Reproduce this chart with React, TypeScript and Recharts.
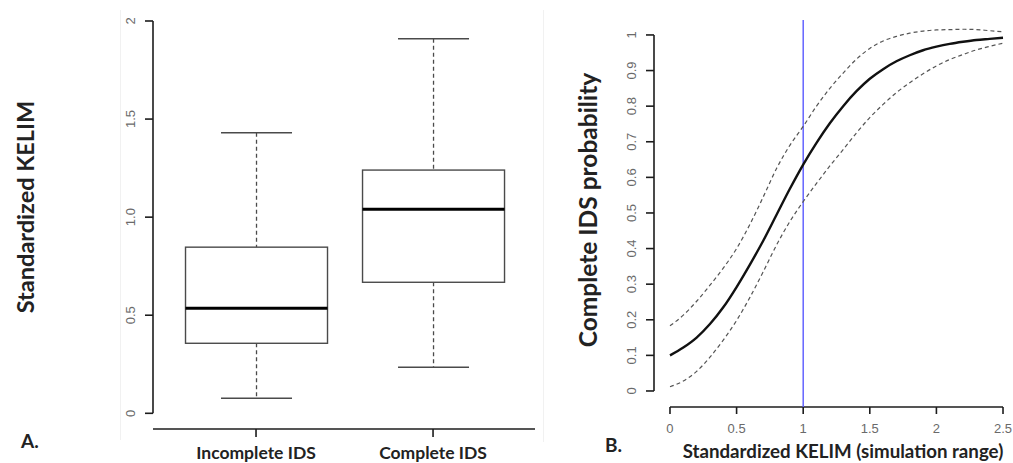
import React from "react"
import { ComposedChart, Bar, LineChart, Line, XAxis, YAxis, ReferenceLine } from "recharts"

// panel A: boxplot summary per group
const groups = ["Incomplete IDS", "Complete IDS"]
const groupPos = [1, 2]
const whiskerLow = [0.077, 0.235]
const q1 = [0.357, 0.668]
const median = [0.536, 1.04]
const q3 = [0.847, 1.24]
const whiskerHigh = [1.43, 1.91]
const boxTicks = [0, 0.5, 1, 1.5, 2]
const boxTickLabels = ["0", "0.5", "1.0", "1.5", "2"]

// panel B: fitted probability with confidence band
const kelim = [0, 0.1, 0.2, 0.3, 0.4, 0.5, 0.6, 0.7, 0.8, 0.9, 1, 1.1, 1.2, 1.3, 1.4, 1.5, 1.6, 1.7, 1.8, 1.9, 2, 2.1, 2.2, 2.3, 2.4, 2.5]
const probFit = [0.1, 0.122, 0.15, 0.188, 0.235, 0.292, 0.355, 0.422, 0.495, 0.568, 0.636, 0.697, 0.752, 0.8, 0.842, 0.877, 0.904, 0.926, 0.943, 0.957, 0.967, 0.975, 0.981, 0.986, 0.989, 0.992]
const probUpper = [0.183, 0.213, 0.252, 0.297, 0.345, 0.4, 0.468, 0.545, 0.625, 0.69, 0.743, 0.8, 0.85, 0.893, 0.932, 0.962, 0.983, 0.996, 1.005, 1.011, 1.014, 1.015, 1.016, 1.015, 1.012, 1.009]
const probLower = [0.012, 0.028, 0.055, 0.095, 0.143, 0.198, 0.263, 0.335, 0.41, 0.476, 0.532, 0.583, 0.632, 0.678, 0.725, 0.768, 0.805, 0.838, 0.866, 0.891, 0.913, 0.931, 0.945, 0.958, 0.968, 0.977]
const probTicks = [0, 0.1, 0.2, 0.3, 0.4, 0.5, 0.6, 0.7, 0.8, 0.9, 1]
const probTickLabels = ["0", "0.1", "0.2", "0.3", "0.4", "0.5", "0.6", "0.7", "0.8", "0.9", "1"]
const kelimTicks = [0, 0.5, 1, 1.5, 2, 2.5]
const kelimTickLabels = ["0", "0.5", "1", "1.5", "2", "2.5"]
const cutoff = 1

const boxRows = groups.map((name, i) => ({
  name,
  pos: groupPos[i],
  low: whiskerLow[i],
  q1: q1[i],
  med: median[i],
  q3: q3[i],
  high: whiskerHigh[i],
  range: [whiskerLow[i], whiskerHigh[i]],
}))

const probRows = kelim.map((x, i) => ({ x, fit: probFit[i], upper: probUpper[i], lower: probLower[i] }))

const AXIS = "#1c1c1c"
const TICK_TEXT = "#6a6a6a"
const BOX = "#4a4a4a"
const TITLE_FONT = "Lato, 'Open Sans', sans-serif"
const TICK_FONT = "'Liberation Sans', Arial, sans-serif"

function BoxShape(props: any) {
  const { x, y, width, height, payload } = props
  const lo = payload.low
  const hi = payload.high
  const k = height / (hi - lo)
  const py = (v: number) => y + (hi - v) * k
  const cx = x + width / 2
  const cap = width / 4
  return (
    <g>
      <line x1={cx} x2={cx} y1={py(hi)} y2={py(payload.q3)} stroke={BOX} strokeWidth={1.3} strokeDasharray="4 3" />
      <line x1={cx} x2={cx} y1={py(payload.q1)} y2={py(lo)} stroke={BOX} strokeWidth={1.3} strokeDasharray="4 3" />
      <line x1={cx - cap} x2={cx + cap} y1={py(hi)} y2={py(hi)} stroke={BOX} strokeWidth={1.5} />
      <line x1={cx - cap} x2={cx + cap} y1={py(lo)} y2={py(lo)} stroke={BOX} strokeWidth={1.5} />
      <rect x={x} y={py(payload.q3)} width={width} height={py(payload.q1) - py(payload.q3)} fill="#fff" stroke={BOX} strokeWidth={1.4} />
      <line x1={x} x2={x + width} y1={py(payload.med)} y2={py(payload.med)} stroke="#000" strokeWidth={3} />
    </g>
  )
}

function RotTick(labels: string[], values: number[]) {
  return (props: any) => {
    const { x, y, payload } = props
    const idx = values.indexOf(payload.value)
    return (
      <text transform={`translate(${x - 8.5},${y}) rotate(-90)`} textAnchor="middle" fontSize={13} fill={TICK_TEXT} fontFamily={TICK_FONT}>
        {idx >= 0 ? labels[idx] : payload.value}
      </text>
    )
  }
}

function GroupTick(props: any) {
  const { x, y, payload } = props
  const idx = groupPos.indexOf(payload.value)
  return (
    <text x={x} y={y + 20} textAnchor="middle" fontSize={17.5} fontWeight={700} fill="#222" fontFamily={TITLE_FONT}>
      {groups[idx]}
    </text>
  )
}

function KelimTick(props: any) {
  const { x, y, payload } = props
  const idx = kelimTicks.indexOf(payload.value)
  return (
    <text x={x} y={y + 17} textAnchor="middle" fontSize={13} fill={TICK_TEXT} fontFamily={TICK_FONT}>
      {kelimTickLabels[idx]}
    </text>
  )
}

export default function App() {
  return (
    <div style={{ position: "absolute", left: 0, top: 0, width: 1013, height: 463, overflow: "hidden", background: "#fff" }}>
      <div style={{ position: "absolute", left: 120, top: 10, width: 1, height: 430, background: "#f1f1f1" }} />
      <div style={{ position: "absolute", left: 543, top: 10, width: 1, height: 432, background: "#f1f1f1" }} />

      <div style={{ position: "absolute", left: 0, top: 0 }}>
        <ComposedChart width={545} height={463} data={boxRows} margin={{ top: 5.3, right: 10, bottom: 4, left: 113 }}>
          <XAxis
            dataKey="pos"
            type="number"
            domain={[0.418, 2.576]}
            ticks={groupPos}
            allowDataOverflow
            interval={0}
            height={30}
            tickSize={8}
            axisLine={{ stroke: AXIS, strokeWidth: 1.6 }}
            tickLine={{ stroke: AXIS, strokeWidth: 1.6 }}
            tick={GroupTick}
          />
          <YAxis
            type="number"
            domain={[-0.08, 2.08]}
            ticks={boxTicks}
            allowDataOverflow
            interval={0}
            width={40}
            tickSize={8}
            axisLine={false}
            tickLine={{ stroke: AXIS, strokeWidth: 1.6 }}
            tick={RotTick(boxTickLabels, boxTicks)}
          />
          <ReferenceLine segment={[{ x: 0.418, y: 0 }, { x: 0.418, y: 2 }]} stroke={AXIS} strokeWidth={1.6} ifOverflow="visible" />
          <Bar dataKey="range" barSize={142} shape={BoxShape} isAnimationActive={false} />
        </ComposedChart>
      </div>

      <div style={{ position: "absolute", left: 540, top: 0 }}>
        <LineChart width={473} height={463} data={probRows} margin={{ top: 20, right: 0, bottom: 26, left: 74 }}>
          <XAxis
            dataKey="x"
            type="number"
            domain={[-0.12, 2.575]}
            ticks={kelimTicks}
            allowDataOverflow
            interval={0}
            height={30}
            tickSize={7}
            axisLine={false}
            tickLine={{ stroke: AXIS, strokeWidth: 1.6 }}
            tick={KelimTick}
          />
          <YAxis
            type="number"
            domain={[-0.045, 1.042]}
            ticks={probTicks}
            allowDataOverflow
            interval={0}
            width={40}
            tickSize={8}
            axisLine={false}
            tickLine={{ stroke: AXIS, strokeWidth: 1.6 }}
            tick={RotTick(probTickLabels, probTicks)}
          />
          <ReferenceLine segment={[{ x: -0.12, y: 0 }, { x: -0.12, y: 1 }]} stroke={AXIS} strokeWidth={1.6} ifOverflow="visible" />
          <ReferenceLine segment={[{ x: 0, y: -0.045 }, { x: 2.5, y: -0.045 }]} stroke={AXIS} strokeWidth={1.6} ifOverflow="visible" />
          <ReferenceLine x={cutoff} stroke="#5a5aff" strokeWidth={1.4} />
          <Line dataKey="upper" type="monotone" stroke="#555" strokeWidth={1.2} strokeDasharray="4 3" dot={false} isAnimationActive={false} />
          <Line dataKey="lower" type="monotone" stroke="#555" strokeWidth={1.2} strokeDasharray="4 3" dot={false} isAnimationActive={false} />
          <Line dataKey="fit" type="monotone" stroke="#111" strokeWidth={2.4} dot={false} isAnimationActive={false} />
        </LineChart>
      </div>

      <svg width={1013} height={463} style={{ position: "absolute", left: 0, top: 0, pointerEvents: "none" }}>
        <text transform="translate(34,207) rotate(-90)" textAnchor="middle" fontSize={23.5} fontWeight={700} fill="#222" fontFamily={TITLE_FONT}>
          Standardized KELIM
        </text>
        <text transform="translate(597,210) rotate(-90)" textAnchor="middle" fontSize={24.5} fontWeight={700} fill="#222" fontFamily={TITLE_FONT}>
          Complete IDS probability
        </text>
        <text x={843} y={458} textAnchor="middle" fontSize={18.7} fontWeight={700} fill="#222" fontFamily={TITLE_FONT}>
          Standardized KELIM (simulation range)
        </text>
        <text x={21} y={448} fontSize={19} fontWeight={700} fill="#222" fontFamily={TITLE_FONT}>
          A.
        </text>
        <text x={605} y={452} fontSize={19} fontWeight={700} fill="#222" fontFamily={TITLE_FONT}>
          B.
        </text>
      </svg>
    </div>
  )
}
